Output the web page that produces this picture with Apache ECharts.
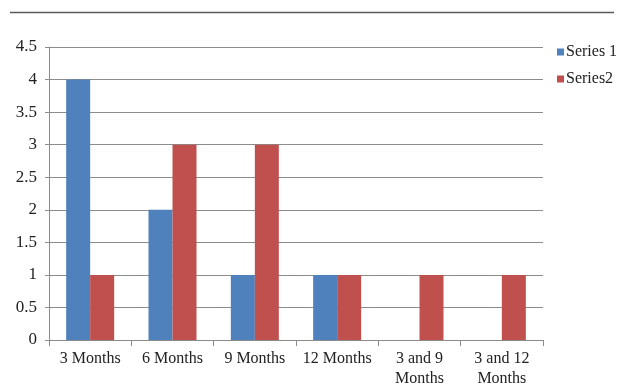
<!DOCTYPE html>
<html>
<head>
<meta charset="utf-8">
<script src="https://cdn.jsdelivr.net/npm/echarts@6/dist/echarts.min.js"></script>
<style>
  html, body { margin: 0; padding: 0; background: #fff; }
  #chart { width: 627px; height: 389px; }
</style>
</head>
<body>
<div id="chart"></div>
<script>
var categories = ['3 Months', '6 Months', '9 Months', '12 Months', '3 and 9\nMonths', '3 and 12\nMonths'];
var series1 = [4, 2, 1, 1, null, null];
var series2 = [1, 3, 3, 1, 1, 1];
var yTicks = { min: 0, max: 4.5, interval: 0.5 };

var chart = echarts.init(document.getElementById('chart'));
var font = 'Liberation Serif';

var option = {
  animation: false,
  backgroundColor: '#fff',
  graphic: [{
    type: 'line',
    shape: { x1: 10, y1: 12.5, x2: 614, y2: 12.5 },
    style: { stroke: '#5a5a5a', lineWidth: 1.5 }
  }],
  legend: {
    orient: 'vertical',
    left: 552,
    top: 39,
    itemWidth: 7,
    itemHeight: 7,
    itemGap: 11,
    icon: 'rect',
    textStyle: { fontFamily: font, fontSize: 16, color: '#222', padding: [0, 0, 0, -3] },
    data: ['Series 1', 'Series2']
  },
  grid: { left: 49, right: 84, top: 47, bottom: 45 },
  xAxis: {
    type: 'category',
    data: categories,
    axisLine: { lineStyle: { color: '#8c8c8c' } },
    axisTick: { show: true, interval: 0, length: 6, lineStyle: { color: '#8c8c8c' } },
    axisLabel: { interval: 0, fontFamily: font, fontSize: 16, color: '#222', margin: 9, lineHeight: 20 },
    splitLine: { show: false }
  },
  yAxis: {
    type: 'value',
    min: yTicks.min,
    max: yTicks.max,
    interval: yTicks.interval,
    axisLine: { show: true, lineStyle: { color: '#8c8c8c' } },
    axisTick: { show: true, length: 4, lineStyle: { color: '#8c8c8c' } },
    axisLabel: { fontFamily: font, fontSize: 17, color: '#222', margin: 12 },
    splitLine: { lineStyle: { color: '#8c8c8c' } }
  },
  series: [{
    name: 'Series 1',
    type: 'bar',
    data: series1,
    barWidth: 24,
    barGap: '0%',
    itemStyle: { color: '#4f81bd' }
  }, {
    name: 'Series2',
    type: 'bar',
    data: series2,
    barWidth: 24,
    barGap: '0%',
    itemStyle: { color: '#c0504d' }
  }]
};

chart.setOption(option);
</script>
</body>
</html>
